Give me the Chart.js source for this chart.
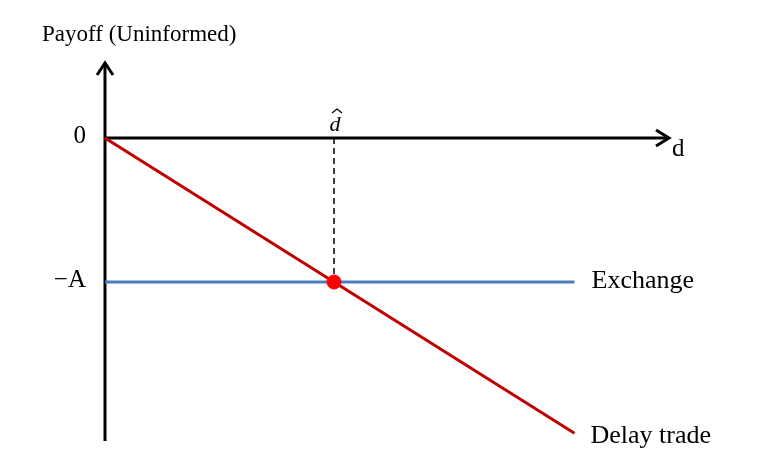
<!DOCTYPE html>
<html>
<head>
<meta charset="utf-8">
<script src="https://cdn.jsdelivr.net/npm/chart.js@4.4.1/dist/chart.umd.min.js"></script>
<style>
  html, body { margin: 0; padding: 0; background: #ffffff; }
  #wrap { width: 764px; height: 470px; position: relative; }
</style>
</head>
<body>
<div id="wrap"><canvas id="payoffChart"></canvas></div>
<script>
// Uninformed trader payoff vs delay d

// d in units of d-hat, payoff in units of A
const delayX = [0, 2.05];
const delayY = [0, -2.05];
const exchangeX = [0, 2.05];
const exchangeY = [-1, -1];
const cutoffX = [1, 1];
const cutoffY = [0, -1];
const crossX = [1];
const crossY = [-1];

const yTickValues = [0, -1];
const yTickLabels = ['0', '\u2212A'];
const seriesLabels = ['Exchange', 'Delay trade'];

const axisRange = { xMin: 0, xMax: 2.467, yMin: -2.104, yMax: 0.528 };

function toPoints(xs, ys) {
    return xs.map((x, i) => ({ x: x, y: ys[i] }));
}

const serif = '"Liberation Serif", "Times New Roman", serif';

const axesPlugin = {
    id: 'axesPlugin',
    beforeDatasetsDraw(chart) {
        const c = chart.ctx;
        const xs = chart.scales.x, ys = chart.scales.y;
        const x0 = xs.getPixelForValue(0);
        const y0 = ys.getPixelForValue(0);
        const xEnd = xs.getPixelForValue(axisRange.xMax);
        const yTop = ys.getPixelForValue(axisRange.yMax);
        const yBot = ys.getPixelForValue(axisRange.yMin);
        c.save();
        c.strokeStyle = '#000';
        c.lineWidth = 3;
        c.lineCap = 'butt';
        c.lineJoin = 'miter';
        // y axis
        c.beginPath();
        c.moveTo(x0, yBot);
        c.lineTo(x0, yTop + 1);
        c.stroke();
        c.beginPath();
        c.moveTo(x0 - 8, yTop + 13);
        c.lineTo(x0, yTop + 1);
        c.lineTo(x0 + 8, yTop + 13);
        c.stroke();
        // x axis
        c.beginPath();
        c.moveTo(x0, y0);
        c.lineTo(xEnd - 1, y0);
        c.stroke();
        c.beginPath();
        c.moveTo(xEnd - 14, y0 - 8);
        c.lineTo(xEnd - 1, y0);
        c.lineTo(xEnd - 14, y0 + 8);
        c.stroke();
        c.restore();
    },
    afterDatasetsDraw(chart) {
        const c = chart.ctx;
        const xs = chart.scales.x, ys = chart.scales.y;
        const x0 = xs.getPixelForValue(0);
        const y0 = ys.getPixelForValue(0);
        c.save();
        c.fillStyle = '#000';
        c.textBaseline = 'middle';
        // y tick labels
        c.font = '25px ' + serif;
        c.textAlign = 'right';
        yTickValues.forEach((v, i) => {
            c.fillText(yTickLabels[i], x0 - 19, ys.getPixelForValue(v) - 2);
        });
        // title
        c.textAlign = 'left';
        c.font = '23px ' + serif;
        c.fillText('Payoff (Uninformed)', 42, 35);
        // axis name d
        c.font = '25px ' + serif;
        c.fillText('d', xs.getPixelForValue(axisRange.xMax) + 2, y0 + 11);
        // d-hat
        c.textAlign = 'center';
        c.font = 'italic 22px ' + serif;
        const dx = xs.getPixelForValue(cutoffX[0]);
        c.fillText('d', dx + 1, y0 - 13);
        c.strokeStyle = '#000';
        c.lineWidth = 1.3;
        c.beginPath();
        c.moveTo(dx - 2, y0 - 25);
        c.lineTo(dx + 3, y0 - 29);
        c.lineTo(dx + 8, y0 - 25);
        c.stroke();
        // series labels
        c.textAlign = 'left';
        c.font = '26px ' + serif;
        c.fillText(seriesLabels[0], xs.getPixelForValue(exchangeX[1]) + 17, ys.getPixelForValue(exchangeY[1]) - 1);
        c.fillText(seriesLabels[1], xs.getPixelForValue(delayX[1]) + 16, ys.getPixelForValue(delayY[1]) + 3);
        c.restore();
    }
};

new Chart(document.getElementById('payoffChart'), {
    type: 'scatter',
    data: {
        datasets: [
            {
                label: 'Exchange',
                data: toPoints(exchangeX, exchangeY),
                showLine: true,
                borderColor: '#4a7ebb',
                borderWidth: 3,
                pointRadius: 0,
                clip: false,
                order: 3
            },
            {
                label: 'Delay trade',
                data: toPoints(delayX, delayY),
                showLine: true,
                borderColor: '#c00000',
                borderWidth: 3,
                pointRadius: 0,
                clip: false,
                order: 2
            },
            {
                label: 'cutoff',
                data: toPoints(cutoffX, cutoffY),
                showLine: true,
                borderColor: '#000',
                borderWidth: 1.5,
                borderDash: [6, 4],
                pointRadius: 0,
                clip: false,
                order: 4
            },
            {
                label: 'crossing',
                data: toPoints(crossX, crossY),
                pointRadius: 7,
                pointBackgroundColor: '#ff0000',
                pointBorderColor: '#ff0000',
                pointBorderWidth: 1,
                clip: false,
                order: 1
            }
        ]
    },
    options: {
        responsive: true,
        maintainAspectRatio: false,
        animation: false,
        layout: { padding: { left: 105, right: 94, top: 62, bottom: 29 } },
        plugins: {
            legend: { display: false },
            tooltip: { enabled: false },
            title: { display: false }
        },
        scales: {
            x: { type: 'linear', display: false, min: axisRange.xMin, max: axisRange.xMax },
            y: { type: 'linear', display: false, min: axisRange.yMin, max: axisRange.yMax }
        }
    },
    plugins: [axesPlugin]
});
</script>
</body>
</html>
